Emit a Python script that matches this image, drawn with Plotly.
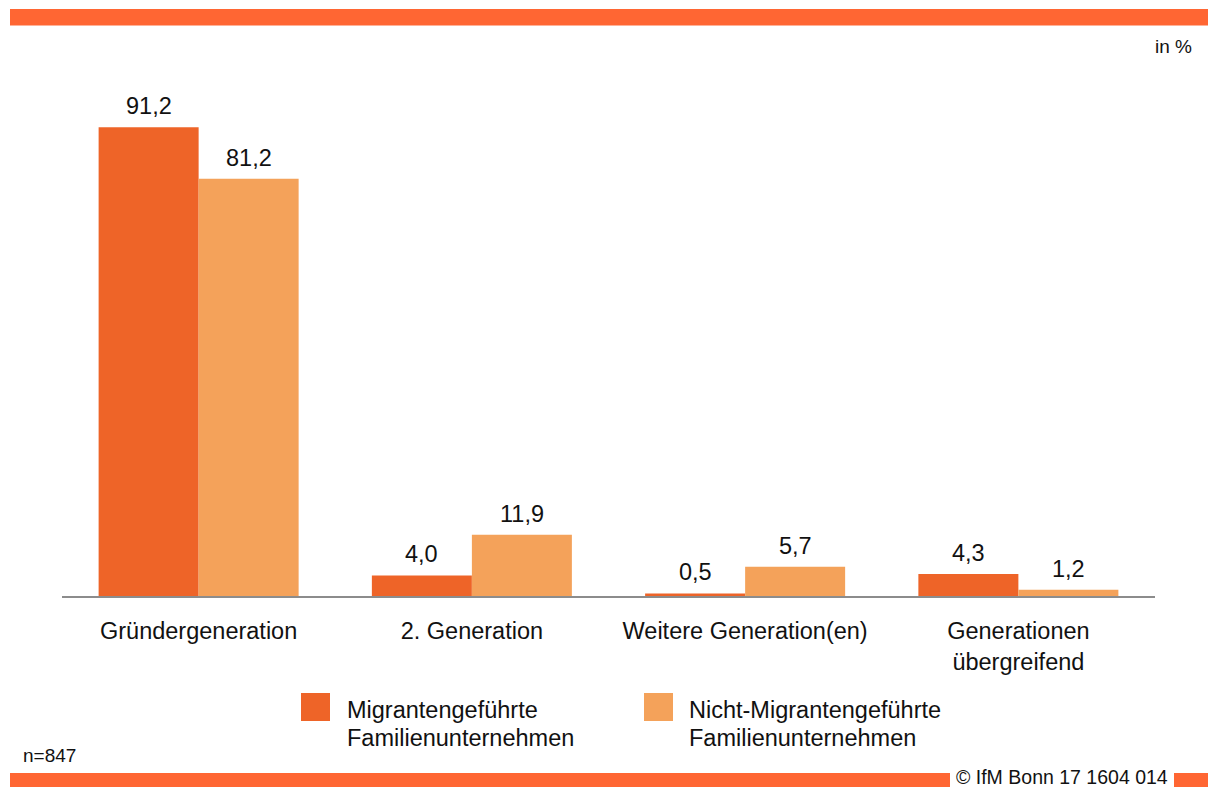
import plotly.graph_objects as go

categories = ["Gründergeneration", "2. Generation", "Weitere Generation(en)", "Generationen übergreifend"]
tick_labels = ["Gründergeneration", "2. Generation", "Weitere Generation(en)", "Generationen<br>übergreifend"]
series_line1 = ["Migrantengeführte", "Nicht-Migrantengeführte"]
series_line2 = ["Familienunternehmen", "Familienunternehmen"]
migrant = [91.2, 4.0, 0.5, 4.3]
non_migrant = [81.2, 11.9, 5.7, 1.2]
colors = ["#EE6428", "#F4A25A"]
unit_label = "in %"
sample_note = "n=847"
source_note = "© IfM Bonn 17 1604 014"

W, H = 1208, 787
L, R, T, B = 62, 1155, 82, 596  # plot area in pixels
FONT = "Liberation Sans, Arial, sans-serif"
TXT = "#111111"


def px(x):
    return (x - L) / (R - L)


def py(y):
    return (B - y) / (B - T)


fig = go.Figure()
for name, vals, col in zip(series_line1, [migrant, non_migrant], colors):
    fig.add_trace(go.Bar(x=categories, y=vals, name=name, marker=dict(color=col, line=dict(width=0)),
                         showlegend=False, hoverinfo="skip"))

annotations = []
for vals, shift in [(migrant, -50), (non_migrant, 50)]:
    for c, v in zip(categories, vals):
        annotations.append(dict(x=c, y=v, xref="x", yref="y", text=f"{v:.1f}".replace(".", ","),
                                showarrow=False, yanchor="bottom", xanchor="center", xshift=shift, yshift=6,
                                font=dict(size=23.5, color=TXT, family=FONT)))

band = "#FF6633"
shapes = []
shapes.append(dict(type="rect", xref="paper", yref="paper", x0=px(10), x1=px(1210), y0=py(25.5), y1=py(9),
                   fillcolor=band, line=dict(width=0), layer="above"))
shapes.append(dict(type="rect", xref="paper", yref="paper", x0=px(10), x1=px(950), y0=py(790), y1=py(773),
                   fillcolor=band, line=dict(width=0), layer="above"))
shapes.append(dict(type="rect", xref="paper", yref="paper", x0=px(1174), x1=px(1210), y0=py(790), y1=py(773),
                   fillcolor=band, line=dict(width=0), layer="above"))

# legend (manual, large swatches)
legend_pos = [(301, 345), (644, 687)]
for (sx, tx), l1, l2, col in zip(legend_pos, series_line1, series_line2, colors):
    shapes.append(dict(type="rect", xref="paper", yref="paper", x0=px(sx), x1=px(sx + 29), y0=py(721), y1=py(693),
                       fillcolor=col, line=dict(width=0)))
    for txt, cy in [(l1, 710), (l2, 738)]:
        annotations.append(dict(x=px(tx), y=py(cy), xref="paper", yref="paper", text=txt, showarrow=False,
                                xanchor="left", yanchor="middle", align="left",
                                font=dict(size=23.5, color=TXT, family=FONT)))

annotations.append(dict(x=px(1194), y=py(46), xref="paper", yref="paper", text=unit_label, showarrow=False,
                        xanchor="right", yanchor="middle", font=dict(size=19, color=TXT, family=FONT)))
annotations.append(dict(x=px(21), y=py(755), xref="paper", yref="paper", text=sample_note, showarrow=False,
                        xanchor="left", yanchor="middle", font=dict(size=19, color=TXT, family=FONT)))
annotations.append(dict(x=px(1062), y=py(777), xref="paper", yref="paper", text=source_note, showarrow=False,
                        xanchor="center", yanchor="middle", font=dict(size=19.5, color=TXT, family=FONT)))

fig.update_layout(
    width=W, height=H,
    margin=dict(l=L, r=W - R, t=T, b=H - B, pad=0),
    paper_bgcolor="white", plot_bgcolor="white",
    barmode="group", bargap=0.268, bargroupgap=0,
    font=dict(family=FONT, size=23.5, color=TXT),
    hovermode=False,
    xaxis=dict(tickmode="array", tickvals=categories, ticktext=tick_labels, showline=True,
               linecolor="#8C8C8C", linewidth=2, ticks="", ticklabelstandoff=13, showgrid=False,
               tickfont=dict(size=23.5, color=TXT, family=FONT), fixedrange=True),
    yaxis=dict(range=[0, 100], visible=False, showgrid=False, fixedrange=True),
    annotations=annotations, shapes=shapes, showlegend=False,
)

fig.write_html("out.html", config={"displayModeBar": False, "staticPlot": True},
               post_script="document.body.style.margin='0';document.body.style.overflow='hidden';")
